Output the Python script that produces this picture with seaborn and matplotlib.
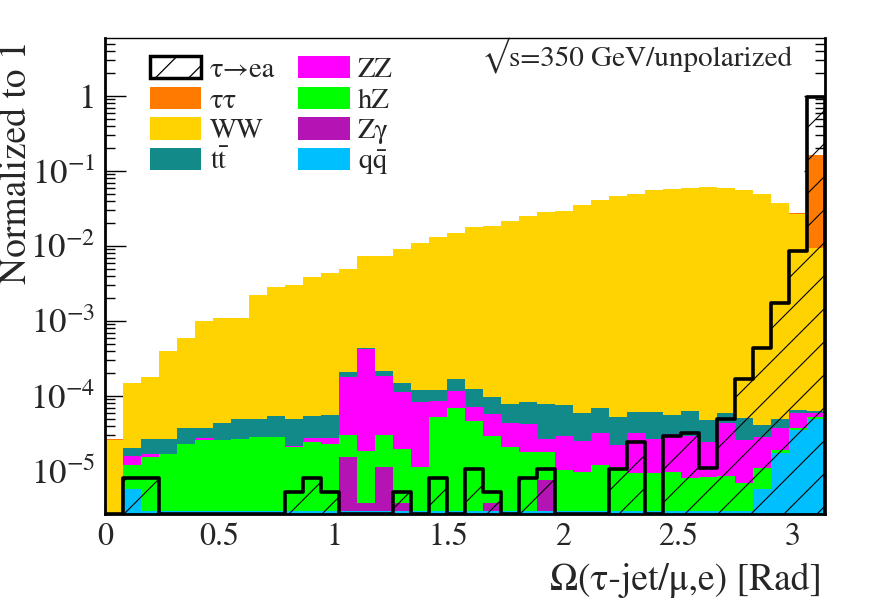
import numpy as np
import matplotlib
matplotlib.use("Agg")
import matplotlib.pyplot as plt
import seaborn as sns
from matplotlib.patches import Patch
from matplotlib.collections import LineCollection
from matplotlib.ticker import FixedLocator, MultipleLocator, LogLocator, NullFormatter

# 40 bins over [0, pi]
n_bins = 40
x_max = np.pi
y_lo, y_hi = 2.67e-6, 5.93

# visible top edge of each coloured layer, per bin
tautau_top = [2.7e-5, 0, 0, 0, 0, 0, 0, 0, 0, 0,
              0, 0, 0, 0, 0, 0, 0, 0, 0, 0,
              0, 0, 0, 0, 0, 0, 0, 0, 0, 0,
              0, 0, 0, 0, 0, 0, 0, 0, 2.72e-2, 0.163]
ww_top = [2.6e-5, 1.48e-4, 1.78e-4, 4.0e-4, 6.0e-4, 1.0e-3, 1.1e-3, 1.1e-3, 2.2e-3, 2.8e-3,
          3.0e-3, 3.9e-3, 4.3e-3, 4.9e-3, 7.4e-3, 7.4e-3, 9.2e-3, 0.0109, 0.0133, 0.0148,
          0.0177, 0.0185, 0.0216, 0.0253, 0.0287, 0.0296, 0.0352, 0.041, 0.046, 0.049,
          0.055, 0.058, 0.060, 0.0605, 0.0588, 0.0558, 0.0489, 0.037, 0.0265, 9.4e-3]
tt_top = [0, 2.0e-5, 2.65e-5, 2.65e-5, 3.8e-5, 3.75e-5, 4.4e-5, 4.9e-5, 4.9e-5, 5.4e-5,
          4.9e-5, 5.4e-5, 5.6e-5, 2.07e-4, 4.4e-4, 2.15e-4, 1.48e-4, 1.2e-4, 1.22e-4, 1.67e-4,
          1.25e-4, 9.8e-5, 7.8e-5, 8.4e-5, 7.8e-5, 7.6e-5, 6.0e-5, 6.9e-5, 5.3e-5, 6.1e-5,
          6.1e-5, 5.6e-5, 6.4e-5, 4.8e-5, 5.9e-5, 5.1e-5, 4.1e-5, 5.0e-5, 6.5e-5, 6.4e-5]
zz_top = [0, 1.58e-5, 1.69e-5, 0, 0, 2.73e-5, 0, 0, 0, 0,
          2.17e-5, 2.78e-5, 2.75e-5, 1.8e-4, 4.2e-4, 1.83e-4, 1.14e-4, 8.4e-5, 8.6e-5, 1.18e-4,
          7.1e-5, 5.7e-5, 4.4e-5, 4.2e-5, 2.7e-5, 2.9e-5, 2.5e-5, 3.2e-5, 2.2e-5, 3.2e-5,
          2.65e-5, 3.1e-5, 2.9e-5, 2.46e-5, 4.3e-5, 2.6e-5, 2.87e-5, 3.7e-5, 5.9e-5, 5.9e-5]
hz_top = [0, 1.2e-5, 1.55e-5, 1.69e-5, 2.29e-5, 2.6e-5, 2.6e-5, 2.7e-5, 2.87e-5, 2.85e-5,
          2.1e-5, 2.4e-5, 2.3e-5, 3.0e-5, 1.85e-5, 3.0e-5, 1.96e-5, 1.12e-5, 5.3e-5, 6.9e-5,
          4.7e-5, 2.96e-5, 2.07e-5, 1.81e-5, 1.81e-5, 1.03e-5, 9.6e-6, 1.2e-5, 1.12e-5, 9.4e-6,
          9.4e-6, 9.6e-6, 8.0e-6, 8.3e-6, 8.7e-6, 7.0e-6, 1.09e-5, 1.9e-5, 3.7e-5, 5.2e-5]
zgamma_top = [0, 0, 0, 0, 0, 0, 0, 0, 0, 0,
              0, 0, 0, 1.52e-5, 3.8e-6, 1.14e-5, 3.8e-6, 0, 0, 0,
              0, 3.8e-6, 0, 0, 7.6e-6, 0, 0, 0, 0, 0,
              0, 0, 0, 0, 0, 0, 0, 0, 0, 0]
qq_top = [0, 5.7e-6, 2.9e-6, 2.9e-6, 2.9e-6, 2.9e-6, 2.9e-6, 2.9e-6, 2.9e-6, 2.9e-6,
          2.9e-6, 2.9e-6, 2.9e-6, 2.9e-6, 2.9e-6, 2.9e-6, 2.9e-6, 2.9e-6, 2.9e-6, 2.9e-6,
          2.9e-6, 2.9e-6, 2.9e-6, 2.9e-6, 2.9e-6, 2.9e-6, 2.9e-6, 2.9e-6, 2.9e-6, 2.9e-6,
          2.9e-6, 2.9e-6, 2.9e-6, 2.9e-6, 2.9e-6, 2.9e-6, 5.7e-6, 1.75e-5, 3.5e-5, 5.0e-5]
signal = [0, 8.1e-6, 8.1e-6, 0, 0, 0, 0, 0, 0, 0,
          5.2e-6, 8.1e-6, 5.2e-6, 0, 0, 0, 5.3e-6, 0, 8.0e-6, 0,
          1.06e-5, 5.3e-6, 0, 8.0e-6, 1.06e-5, 0, 0, 0, 1.06e-5, 2.4e-5,
          0, 2.93e-5, 3.2e-5, 1.09e-5, 5.0e-5, 1.67e-4, 4.3e-4, 1.72e-3, 8.6e-3, 0.98]

layer_labels = ["ττ", "WW", "t$\\bar{\\mathrm{t}}$", "ZZ", "hZ", "Zγ", "q$\\bar{\\mathrm{q}}$"]
layer_colors = ["#ff7a00", "#ffd300", "#128a8a", "#ff00ff", "#00ff00", "#b414b4", "#00bfff"]
layer_tops = [tautau_top, ww_top, tt_top, zz_top, hz_top, zgamma_top, qq_top]
signal_label = "τ→ea"

xtick_vals = [0, 0.5, 1, 1.5, 2, 2.5, 3]
xtick_labels = ["0", "0.5", "1", "1.5", "2", "2.5", "3"]
ytick_vals = [1e-5, 1e-4, 1e-3, 1e-2, 1e-1, 1]
ytick_labels = ["$10^{-5}$", "$10^{-4}$", "$10^{-3}$", "$10^{-2}$", "$10^{-1}$", "1"]

edges = np.linspace(0, x_max, n_bins + 1)
centers = 0.5 * (edges[:-1] + edges[1:])
bin_list = edges.tolist()

sns.set_theme(style="ticks")
plt.rcParams["font.family"] = ["STIXGeneral", "DejaVu Serif"]
plt.rcParams["mathtext.fontset"] = "stix"
plt.rcParams["hatch.linewidth"] = 0.9

fig = plt.figure(figsize=(8.88, 6.03), dpi=100)
ax = fig.add_axes([105 / 888, 89 / 603, 720 / 888, 476 / 603])
ax.set_yscale("log")

# backgrounds, largest first so lower layers paint over
for tops, color in zip(layer_tops, layer_colors):
    sns.histplot(x=centers, weights=tops, bins=bin_list, element="step", fill=True,
                 color=color, alpha=1, linewidth=0, ax=ax)

# signal: empty bins sit on the frame bottom like ROOT draws them
sig_drawn = np.clip(signal, y_lo, None)
sns.histplot(x=centers, weights=sig_drawn, bins=bin_list, element="step", fill=True,
             color="black", alpha=1, ax=ax)
sig_poly = ax.collections[-1]
sig_poly.set_facecolor("none")
sig_poly.set_edgecolor("black")
sig_poly.set_linewidth(2.6)
sig_poly.set_zorder(3)

aspect = 476 / 720
step = 33 / 720
starts = np.arange(-aspect, 1 + step, step)
segs = [[(a, 0), (a + aspect, 1)] for a in starts]
hatch = LineCollection(segs, colors="black", linewidths=0.8, transform=ax.transAxes, zorder=2.9)
hatch.set_clip_path(sig_poly.get_paths()[0], ax.transData)
ax.add_collection(hatch, autolim=False)

ax.set_xlim(0, x_max)
ax.set_ylim(y_lo, y_hi)
ax.set_xlabel("")
ax.set_ylabel("")

ax.xaxis.set_major_locator(FixedLocator(xtick_vals))
ax.set_xticklabels(xtick_labels)
ax.xaxis.set_minor_locator(MultipleLocator(0.1))
ax.yaxis.set_major_locator(FixedLocator(ytick_vals))
ax.set_yticklabels(ytick_labels)
ax.yaxis.set_minor_locator(LogLocator(base=10, subs=np.arange(2, 10)))
ax.yaxis.set_minor_formatter(NullFormatter())

ax.tick_params(axis="x", which="both", direction="in", bottom=True, top=False,
               labelsize=23, pad=6, width=1, color="black")
ax.tick_params(axis="x", which="major", length=9.5)
ax.tick_params(axis="x", which="minor", length=5)
ax.tick_params(axis="y", which="both", direction="in", left=True, right=True,
               labelsize=25, pad=7, width=1, color="black")
ax.tick_params(axis="y", which="major", length=15)
ax.tick_params(axis="y", which="minor", length=7.5)

for side, lw in [("left", 2), ("bottom", 2), ("right", 2), ("top", 1)]:
    ax.spines[side].set_linewidth(lw)
    ax.spines[side].set_color("black")
    ax.spines[side].set_zorder(5)

handles = [Patch(facecolor="white", edgecolor="black", hatch="/", linewidth=2.5, label=signal_label)]
handles += [Patch(facecolor=c, edgecolor="none", label=l) for l, c in zip(layer_labels, layer_colors)]
leg = ax.legend(handles=handles, ncol=2, loc="upper left",
                bbox_to_anchor=(0.0625, 0.962), frameon=False, fontsize=20.5,
                handlelength=1.8, handleheight=0.82, handletextpad=0.3,
                columnspacing=0.82, labelspacing=0.13, borderpad=0, borderaxespad=0)

ax.text(0.954, 0.943, "√s=350 GeV/unpolarized", transform=ax.transAxes,
        ha="right", va="baseline", fontsize=21)

fig.text(17 / 888, 1 - 40 / 603, "Normalized to 1", rotation=90, ha="center", va="top", fontsize=27)
fig.text(822 / 888, 1 - 590 / 603, "Ω(τ-jet/μ,e) [Rad]", ha="right", va="baseline", fontsize=27)

fig.savefig("out.png", dpi=100)
